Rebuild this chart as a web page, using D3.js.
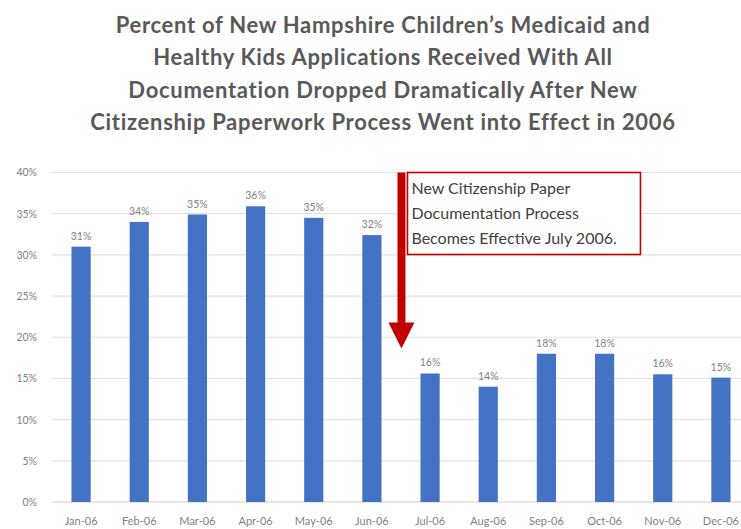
<!DOCTYPE html>
<html><head><meta charset="utf-8">
<script src="https://cdn.jsdelivr.net/npm/d3@7"></script>
<style>body{margin:0;background:#fff}svg{display:block}</style>
</head><body>
<svg id="c" width="741" height="529"></svg>
<script>
const months = ["Jan-06","Feb-06","Mar-06","Apr-06","May-06","Jun-06","Jul-06","Aug-06","Sep-06","Oct-06","Nov-06","Dec-06"];
const values = [31.0, 34.0, 34.9, 35.9, 34.5, 32.4, 15.6, 14.0, 18.0, 18.0, 15.5, 15.1];
const yTicks = [0,5,10,15,20,25,30,35,40];
const titleLines = [
  "Percent of New Hampshire Children\u2019s Medicaid and",
  "Healthy Kids Applications Received With All",
  "Documentation Dropped Dramatically After New",
  "Citizenship Paperwork Process Went into Effect in 2006"
];
const noteLines = ["New Citizenship Paper","Documentation Process","Becomes Effective July 2006."];
const noteMonth = "Jul-06";

const svg = d3.select("#c");
const font = "Lato, 'Open Sans', sans-serif";
const x = d3.scaleBand().domain(months).range([52, 750]).paddingInner(0.67).paddingOuter(0.335);
const y = d3.scaleLinear().domain([0,40]).range([502, 172.5]);

// title
svg.append("g").selectAll("text").data(titleLines).join("text")
  .attr("x", 383).attr("y", (d,i)=>33 + i*32.3)
  .attr("text-anchor","middle").attr("font-family",font).attr("font-weight","bold")
  .attr("font-size",22).attr("letter-spacing",0.7).attr("fill","#595959").text(d=>d);

// gridlines
svg.append("g").selectAll("line").data(yTicks).join("line")
  .attr("x1",52).attr("x2",741).attr("y1",d=>y(d)).attr("y2",d=>y(d))
  .attr("stroke", d=> d===0 ? "#d0d0d0" : "#e2e2e2").attr("stroke-width",1.2);

// y axis labels
const yAxis = d3.axisLeft(y).tickValues(yTicks).tickFormat(d=>d+"%").tickSize(0).tickPadding(0);
const ga = svg.append("g").attr("transform","translate(37,0)").call(yAxis);
ga.select(".domain").remove();
ga.selectAll("text").attr("font-family",font).attr("font-size",10.5).attr("fill","#7f7f7f");

// x axis labels
const xAxis = d3.axisBottom(x).tickSize(0).tickPadding(0);
const gx = svg.append("g").attr("transform","translate(0,517)").call(xAxis);
gx.select(".domain").remove();
gx.selectAll("text").attr("font-family",font).attr("font-size",11).attr("fill","#7f7f7f");

// bars
svg.append("g").selectAll("rect").data(values).join("rect")
  .attr("x",(d,i)=>x(months[i])).attr("width",x.bandwidth())
  .attr("y",d=>y(d)).attr("height",d=>y(0)-y(d)).attr("fill","#4472C4");

// data labels
svg.append("g").selectAll("text").data(values).join("text")
  .attr("x",(d,i)=>x(months[i])+x.bandwidth()/2).attr("y",d=>y(d)-7)
  .attr("text-anchor","middle").attr("font-family",font).attr("font-size",10.5)
  .attr("fill","#7f7f7f").text(d=>Math.round(d)+"%");

// arrow
const ax = x(noteMonth) - x.step()*0.327;
svg.append("line").attr("x1",ax).attr("x2",ax).attr("y1",y(40)).attr("y2",y(40)+152)
  .attr("stroke","#C00000").attr("stroke-width",8);
svg.append("path").attr("d",`M${ax-13},${y(40)+150}L${ax+13},${y(40)+150}L${ax},${y(40)+176}Z`).attr("fill","#C00000");

// annotation box
svg.append("rect").attr("x",ax+6).attr("y",y(40)).attr("width",233).attr("height",82)
  .attr("fill","#fff").attr("stroke","#C00000").attr("stroke-width",1.6);
svg.append("g").selectAll("text").data(noteLines).join("text")
  .attr("x",ax+10).attr("y",(d,i)=>y(40)+21+i*25)
  .attr("font-family",font).attr("font-size",16).attr("fill","#404040").text(d=>d);
</script>
</body></html>
